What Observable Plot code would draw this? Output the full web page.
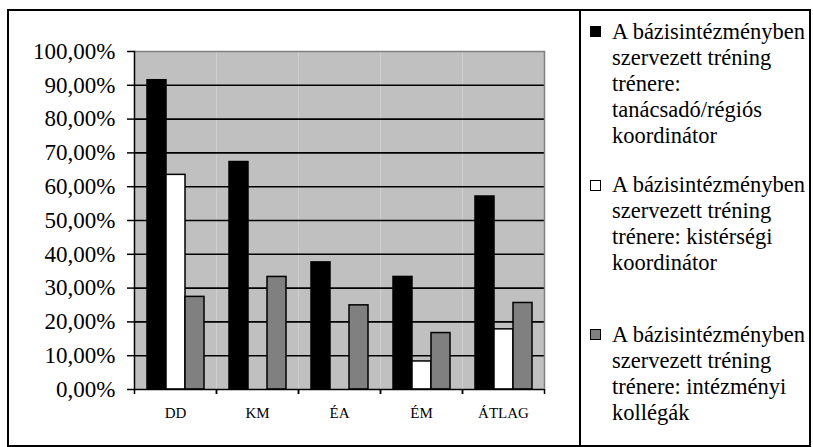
<!DOCTYPE html>
<html>
<head>
<meta charset="utf-8">
<script src="https://cdn.jsdelivr.net/npm/d3@7"></script>
<script src="https://cdn.jsdelivr.net/npm/@observablehq/plot@0.6"></script>
<style>
  body { margin: 0; background: #fff; }
  #wrap { position: relative; width: 813px; height: 447px; font-family: "Liberation Serif", "DejaVu Serif", serif; overflow: hidden; }
  #chart { position: absolute; left: 0; top: 0; }
  #border { position: absolute; left: 7px; top: 9px; width: 804px; height: 438px; box-sizing: border-box; border: 2px solid #000; pointer-events: none; }
  #divider { position: absolute; left: 579px; top: 9px; width: 2px; height: 438px; background: #000; }
  .item { position: absolute; left: 612px; width: 200px; font-size: 22.5px; line-height: 26px; color: #000; font-family: "Liberation Serif", "DejaVu Serif", serif; }
  .swatch { position: absolute; left: -22px; top: 7.6px; width: 11px; height: 11px; box-sizing: border-box; border: 1.5px solid #000; }
  #chart svg text { font-family: "Liberation Serif", "DejaVu Serif", serif; }
</style>
</head>
<body>
<div id="wrap">
  <div id="chart"></div>
  <div id="border"></div>
  <div id="divider"></div>
  <div id="legend"></div>
</div>
<script>
// ---- data ----
const categories = ["DD", "KM", "ÉA", "ÉM", "ÁTLAG"];
const seriesNames = [
  "A bázisintézményben szervezett tréning trénere: tanácsadó/régiós koordinátor",
  "A bázisintézményben szervezett tréning trénere: kistérségi koordinátor",
  "A bázisintézményben szervezett tréning trénere: intézményi kollégák"
];
const tanacsadoRegios = [91.5, 67.3, 37.6, 33.3, 57.1];
const kistersegi      = [63.5, 0, 0, 8.3, 17.8];
const intezmenyi      = [27.4, 33.3, 24.9, 16.7, 25.6];
const yTicks = [0, 10, 20, 30, 40, 50, 60, 70, 80, 90, 100];
const seriesColors = ["#000000", "#ffffff", "#808080"];

const seriesValues = [tanacsadoRegios, kistersegi, intezmenyi];
const rows = categories.flatMap((c, i) =>
  seriesNames.map((s, k) => ({category: c, series: s, value: seriesValues[k][i]}))
);

// ---- layout ----
const W = 813, H = 447;
const mL = 134, mR = 269, mT = 51, mB = 58;
const halfStep = (W - mL - mR) / categories.length / 2;
const fmt = d => d.toFixed(2).replace(".", ",") + "%";
const serif = "'Liberation Serif', 'DejaVu Serif', serif";

const chart = Plot.plot({
  width: W,
  height: H,
  marginLeft: mL,
  marginRight: mR,
  marginTop: mT,
  marginBottom: mB,
  style: {fontFamily: serif, background: "transparent", color: "#000"},
  fx: {domain: categories, paddingInner: 0, paddingOuter: 0, label: null},
  x: {domain: seriesNames, paddingInner: 0, paddingOuter: 0.6, axis: null},
  y: {domain: [0, 100]},
  color: {domain: seriesNames, range: seriesColors},
  marks: [
    Plot.frame({fill: "#c0c0c0", stroke: "none"}),
    Plot.gridY(yTicks.filter(v => v > 0 && v < 100), {stroke: "#000", strokeOpacity: 1, strokeWidth: 1.6}),
    Plot.ruleY([100], {stroke: "#808080", strokeWidth: 1.5}),
    Plot.frame({anchor: "right", facetAnchor: "right", stroke: "#808080", strokeWidth: 1.5}),
    Plot.barY(rows, {fx: "category", x: "series", y: "value", fill: "series", stroke: "#000", strokeWidth: 1.5}),
    Plot.ruleY([0], {stroke: "#000", strokeWidth: 1.5}),
    Plot.frame({anchor: "left", facetAnchor: "left", stroke: "#000", strokeWidth: 1.5}),
    Plot.axisY({ticks: yTicks, tickSize: 7, tickPadding: 12, tickFormat: fmt, fontSize: 23, fontFamily: serif, strokeWidth: 1.5, label: null}),
    Plot.axisFx({anchor: "bottom", tickSize: 0, tickPadding: 17.6, fontSize: 15, fontFamily: serif, label: null}),
    Plot.axisFx({anchor: "bottom", tickSize: 5, tickFormat: () => "", dx: -halfStep, strokeWidth: 1.5, label: null}),
    Plot.axisFx({anchor: "bottom", tickSize: 5, tickFormat: () => "", dx: halfStep, strokeWidth: 1.5, label: null})
  ]
});
document.getElementById("chart").appendChild(chart);

// ---- legend ----
const legendTops = [18.5, 172, 321.5];
const legend = document.getElementById("legend");
seriesNames.forEach((name, k) => {
  const item = document.createElement("div");
  item.className = "item";
  item.style.top = legendTops[k] + "px";
  const sw = document.createElement("div");
  sw.className = "swatch";
  sw.style.background = seriesColors[k];
  item.appendChild(sw);
  item.appendChild(document.createTextNode(name));
  legend.appendChild(item);
});
</script>
</body>
</html>
